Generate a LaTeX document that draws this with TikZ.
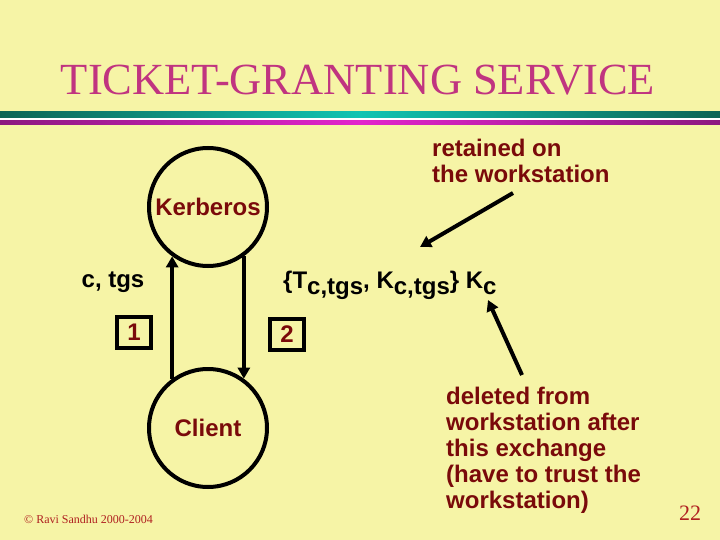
\documentclass[tikz,border=0pt]{standalone}
\usepackage{fontspec}
\setmainfont{Liberation Serif}
\setsansfont{Liberation Sans}
\usepackage{tikz}
\usetikzlibrary{
	arrows.meta,
	positioning
}
\definecolor{paper}{RGB}{246,244,166}
\definecolor{dred}{RGB}{122,10,10}
\definecolor{titlepink}{RGB}{192,52,128}
\definecolor{tealdark}{RGB}{12,100,84}
\definecolor{tealbright}{RGB}{16,196,178}
\definecolor{magdark}{RGB}{140,24,128}
\definecolor{magbright}{RGB}{226,36,204}
\definecolor{copyred}{RGB}{176,32,32}
\tikzstyle{every picture}+=[>={Triangle[length=11pt,width=12pt]}]

\begin{document}
\begin{tikzpicture}[x=1pt,y=-1pt,
	txt/.style={font=\sffamily\bfseries\fontsize{24}{26}\selectfont, inner sep=0pt},
	party/.style={draw, circle, line width=4pt, minimum size=118pt, inner sep=0pt, txt, text=dred},
	numbox/.style={draw, line width=4pt, minimum width=34pt, minimum height=31pt, inner sep=0pt, txt, text=dred},
	msg/.style={->, line width=4pt}
]

	% Slide
		\fill[paper] (0,0) rectangle (720,540);
		\useasboundingbox (0,0) rectangle (720,540);
		\node[font=\fontsize{44.5}{46}\selectfont, text=titlepink, anchor=base] (title) at (358,95) {TICKET-GRANTING SERVICE};
		% bars under the title
		\fill[white] (0,117) rectangle (720,122);
		\shade[left color=tealdark, right color=tealdark, middle color=tealbright] (0,112) rectangle (720,118);
		\shade[left color=magdark, right color=magdark, middle color=magbright] (0,121) rectangle (720,125);

	% Parties
		\node[party] (ker) at (208,207) {Kerberos};
		\node[party] (cli) at (208,428) {Client};

	% Messages
		\newcommand\lowsub[1]{\raisebox{-6pt}{#1}}
		\draw[msg] (cli.126) -- (ker.234);
		\draw[msg] (ker.-54) -- (cli.54);
		\node[txt, anchor=base] (req) at (113,287) {c, tgs};
		\node[txt, anchor=base west] (rep) at (283,288) {\{T\lowsub{c,tgs}, K\lowsub{c,tgs}\} K\lowsub{c}};
		\node[numbox] (one) at (134,332) {1};
		\node[numbox] (two) at (287,334) {2};

	% Notes (base anchor sits on the last line)
		\node[txt, text=dred, anchor=base west, align=left] (kept) at (432,183) {retained on\\the workstation};
		\node[txt, text=dred, anchor=base west, align=left] (gone) at (446,508) {deleted from\\workstation after\\this exchange\\(have to trust the\\workstation)};
		\coordinate (keptA) at (513,193);
		\coordinate (keptB) at (420,247);
		\coordinate (goneA) at (522,375);
		\coordinate (goneB) at (488,300);
		\draw[msg] (keptA) -- (keptB);
		\draw[msg] (goneA) -- (goneB);

	% Footer
		\node[font=\fontsize{12}{14}\selectfont, text=copyred, anchor=base west, inner sep=0pt] (copy) at (24,523) {\textcopyright{} Ravi Sandhu 2000-2004};
		\node[font=\fontsize{22}{24}\selectfont, text=copyred, anchor=base] (page) at (690,520) {22};
\end{tikzpicture}
\end{document}
